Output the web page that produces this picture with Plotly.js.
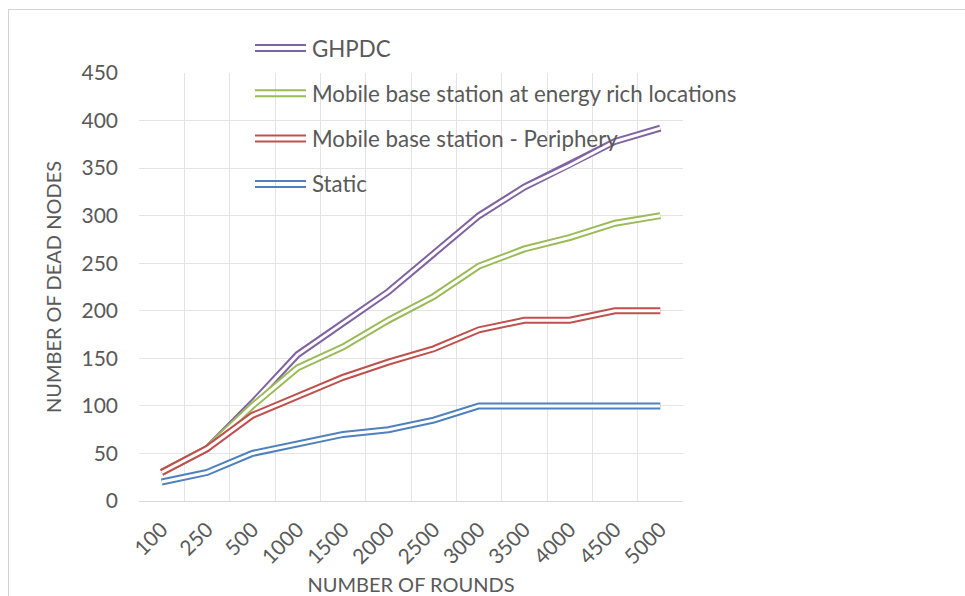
<!DOCTYPE html>
<html>
<head>
<meta charset="utf-8">
<script src="https://cdn.plot.ly/plotly-3.0.1.min.js"></script>
<style>
  html, body { margin: 0; padding: 0; background: #ffffff; }
  #wrap { position: relative; width: 965px; height: 596px; overflow: hidden; }
  #chart { position: absolute; left: 0; top: 0; width: 965px; height: 596px; }
  #frame { position: absolute; left: 8px; top: 9px; width: 980px; height: 620px;
           border-left: 1px solid #d4d4d4; border-top: 1px solid #d4d4d4; pointer-events: none; }
</style>
</head>
<body>
<div id="wrap">
  <div id="chart"></div>
  <div id="frame"></div>
</div>
<script>
// Rounds (category axis)
const rounds = ['100', '250', '500', '1000', '1500', '2000', '2500', '3000', '3500', '4000', '4500', '5000'];

// Number of dead nodes per scheme
const ghpdc      = [30, 55, 103, 154, 187, 220, 260, 300, 330, 353, 378, 392];
const mobileRich = [30, 55, 100, 140, 162, 190, 215, 247, 265, 277, 292, 300];
const periphery  = [30, 55,  90, 110, 130, 146, 160, 180, 190, 190, 200, 200];
const staticBs   = [20, 30,  50,  60,  70,  75,  85, 100, 100, 100, 100, 100];

const seriesNames  = ['GHPDC', 'Mobile base station at energy rich locations', 'Mobile base station - Periphery', 'Static'];
const seriesValues = [ghpdc, mobileRich, periphery, staticBs];
const seriesColors = ['#8064A2', '#9BBB59', '#C0504D', '#4F81BD'];

const FONT = 'Lato, "Open Sans", sans-serif';
const TEXT = '#595959';

// Each series is drawn as a double line: a wide coloured stroke with a white core.
const traces = [];
seriesValues.forEach((vals, i) => {
  traces.push({
    type: 'scatter', mode: 'lines', x: rounds, y: vals, name: seriesNames[i],
    line: { color: seriesColors[i], width: 7, shape: 'linear' },
    showlegend: false, hoverinfo: 'skip'
  });
  traces.push({
    type: 'scatter', mode: 'lines', x: rounds, y: vals,
    line: { color: '#ffffff', width: 3, shape: 'linear' },
    showlegend: false, hoverinfo: 'skip'
  });
});

// Plot area geometry (pixels) used for the hand-built legend
const W = 965, H = 596;
const M = { l: 139, r: 282, t: 73, b: 95 };
const pw = W - M.l - M.r, ph = H - M.t - M.b;
const px = x => (x - M.l) / pw;
const py = y => (H - M.b - y) / ph;

const shapes = [];
const annotations = [];
seriesNames.forEach((name, i) => {
  const yc = 48 + i * 45.3;
  [-3, 3].forEach(d => {
    shapes.push({
      type: 'line', xref: 'paper', yref: 'paper', layer: 'above',
      x0: px(255), x1: px(306), y0: py(yc + d), y1: py(yc + d),
      line: { color: seriesColors[i], width: 2 }
    });
  });
  annotations.push({
    xref: 'paper', yref: 'paper', x: px(310), y: py(yc),
    xanchor: 'left', yanchor: 'middle', showarrow: false,
    text: name, font: { family: FONT, size: 22.3, color: TEXT }
  });
});

const layout = {
  width: W, height: H,
  margin: M,
  paper_bgcolor: '#ffffff', plot_bgcolor: '#ffffff',
  showlegend: false,
  hovermode: false,
  xaxis: {
    type: 'category',
    tickson: 'boundaries',
    range: [-0.5, rounds.length - 0.5],
    showgrid: true, gridcolor: '#e4e4e4', gridwidth: 1,
    showline: true, linecolor: '#d9d9d9', linewidth: 1,
    zeroline: false,
    ticks: '',
    tickangle: -45,
    ticklabelstandoff: 7,
    tickfont: { family: FONT, size: 21, color: TEXT },
    title: { text: 'NUMBER OF ROUNDS', font: { family: FONT, size: 20, color: TEXT }, standoff: 14 },
    fixedrange: true
  },
  yaxis: {
    range: [0, 450],
    dtick: 50,
    showgrid: true, gridcolor: '#e4e4e4', gridwidth: 1,
    showline: false,
    zeroline: false,
    ticks: '',
    ticklabelstandoff: 20,
    tickfont: { family: FONT, size: 21, color: TEXT },
    title: { text: 'NUMBER OF DEAD NODES', font: { family: FONT, size: 20, color: TEXT }, standoff: 14 },
    fixedrange: true
  },
  shapes: shapes,
  annotations: annotations
};

Plotly.newPlot('chart', traces, layout, { displayModeBar: false, staticPlot: true });
</script>
</body>
</html>
